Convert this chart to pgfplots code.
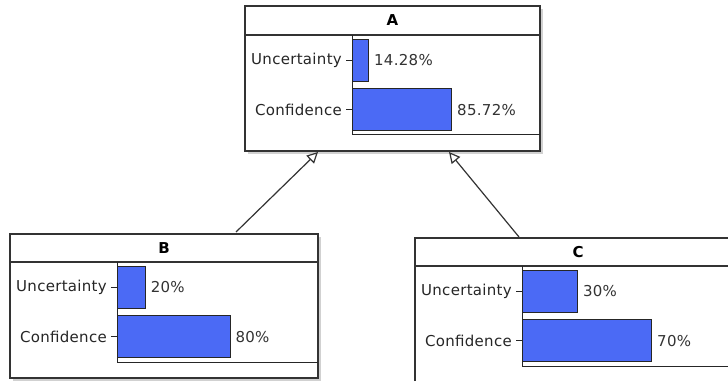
\documentclass[border=0pt]{standalone}
\usepackage{fontspec}
\setmainfont{DejaVu Sans}[LetterSpace=2]
\usepackage{pgfplots}
\pgfplotsset{compat=1.18}
\usetikzlibrary{arrows.meta}
\definecolor{barblue}{HTML}{4B6AF5}
\definecolor{boxline}{HTML}{333333}
\pgfplotsset{netbar/.style={
  xbar, scale only axis, height=100pt, enlargelimits=false,
  xmin=0, ymin=-0.51, ymax=1.51,
  axis x line*=bottom, axis y line*=left,
  xtick=\empty, ytick={0,1}, yticklabels={Confidence,Uncertainty},
  tick align=outside, major tick length=6pt,
  bar width=42pt,
  axis line style={line width=1pt, black!85},
  every tick/.style={black!85, line width=0.8pt},
  y tick label style={font=\fontsize{15}{18}\selectfont, inner sep=0pt, xshift=-4pt, text=black!85},
  point meta=explicit symbolic,
  nodes near coords,
  nodes near coords align=horizontal,
  nodes near coords style={font=\fontsize{15}{18}\selectfont, text=black!80, anchor=west, inner sep=0pt, xshift=5pt},
  anchor=south west,
  clip=false,
}}
\begin{document}
\begin{tikzpicture}[x=1pt,y=1pt]
\useasboundingbox (0,0) rectangle (728,381);
% Box A
\fill[black!18] (248,227) rectangle (543,372);
\draw[boxline, line width=1.2pt, fill=white] (245,230) rectangle (540,375);
\draw[boxline, line width=1.2pt] (245,346) -- (540,346);
\node[font=\bfseries\fontsize{15}{18}\selectfont] at (392.5,360.5) {A};
% Box B
\fill[black!18] (13,0) rectangle (321,144);
\draw[boxline, line width=1.2pt, fill=white] (10,3) rectangle (318,147);
\draw[boxline, line width=1.2pt] (10,119) -- (318,119);
\node[font=\bfseries\fontsize{15}{18}\selectfont] at (164,133) {B};
% Box C (cut off at the right and bottom edges)
\draw[boxline, line width=1.2pt] (415,0) -- (415,143) -- (728,143);
\draw[boxline, line width=1.2pt] (415,115) -- (728,115);
\node[font=\bfseries\fontsize{15}{18}\selectfont] at (578,129) {C};
% arrows
\draw[boxline, line width=1.2pt, -{Triangle[open, length=11pt, width=11pt]}] (236,149) -- (318,229);
\draw[boxline, line width=1.2pt, -{Triangle[open, length=11pt, width=11pt]}] (519,144) -- (449,229);
% axes
\begin{axis}[netbar, at={(352pt,246pt)}, width=188pt, xmax=161.6]
\addplot[fill=barblue, draw=black!85, line width=1pt] coordinates {(85.72,0)[85.72\%] (14.28,1)[14.28\%]};
\end{axis}
\begin{axis}[netbar, at={(117pt,19pt)}, width=201pt, xmax=142.3]
\addplot[fill=barblue, draw=black!85, line width=1pt] coordinates {(80,0)[80\%] (20,1)[20\%]};
\end{axis}
\begin{axis}[netbar, at={(522pt,15pt)}, width=206pt, xmax=111.2]
\addplot[fill=barblue, draw=black!85, line width=1pt] coordinates {(70,0)[70\%] (30,1)[30\%]};
\end{axis}
\end{tikzpicture}
\end{document}
